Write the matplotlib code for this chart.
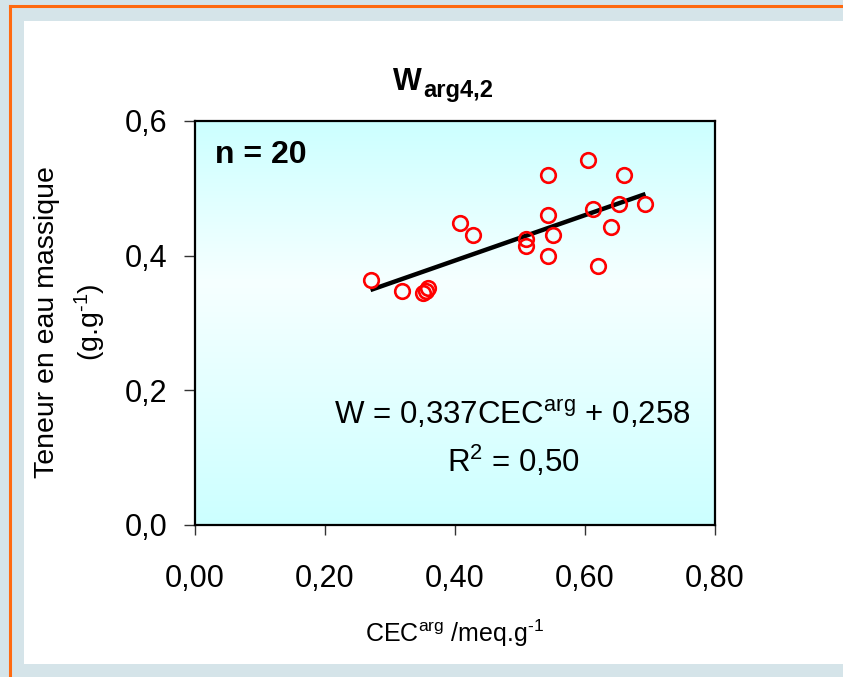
import numpy as np
import matplotlib
matplotlib.use("Agg")
import matplotlib.pyplot as plt
from matplotlib.patches import Rectangle
from matplotlib.lines import Line2D

plt.rcParams['font.family'] = ['Liberation Sans', 'DejaVu Sans']
plt.rcParams['mathtext.fontset'] = 'custom'
plt.rcParams['mathtext.rm'] = 'Liberation Sans'
plt.rcParams['mathtext.it'] = 'Liberation Sans'
plt.rcParams['mathtext.bf'] = 'Liberation Sans:bold'

# ---- data ----
cec = [0.270, 0.319, 0.351, 0.359, 0.408, 0.428, 0.509, 0.509, 0.543, 0.543,
       0.551, 0.543, 0.604, 0.612, 0.620, 0.640, 0.652, 0.660, 0.693, 0.355]
water = [0.364, 0.348, 0.344, 0.352, 0.449, 0.430, 0.425, 0.415, 0.520, 0.461,
         0.430, 0.399, 0.542, 0.469, 0.384, 0.442, 0.477, 0.520, 0.477, 0.347]
slope = 0.337
intercept = 0.258
x_ticks = [0.0, 0.2, 0.4, 0.6, 0.8]
x_ticklabels = ['0,00', '0,20', '0,40', '0,60', '0,80']
y_ticks = [0.0, 0.2, 0.4, 0.6]
y_ticklabels = ['0,0', '0,2', '0,4', '0,6']

W, H = 843, 677
fig = plt.figure(figsize=(W / 100, H / 100), dpi=100)
fig.patch.set_facecolor('#d5e4e9')

def fx(px):
    return px / W

def fy(py):
    return 1 - py / H

# white panel
fig.add_artist(Rectangle((fx(24), fy(664)), fx(843) - fx(24), fy(21) - fy(664),
                         transform=fig.transFigure, facecolor='white',
                         edgecolor='none', zorder=0))
# orange border lines
fig.add_artist(Line2D([fx(10), fx(10)], [fy(677), fy(6)], transform=fig.transFigure,
                      color='#ff6a10', lw=2.2, zorder=1))
fig.add_artist(Line2D([fx(10), fx(843)], [fy(6), fy(6)], transform=fig.transFigure,
                      color='#ff6a10', lw=2.2, zorder=1))

ax = fig.add_axes([fx(195), fy(525), fx(715) - fx(195), fy(121) - fy(525)])

# gradient background of plot area
t = np.linspace(0, 1, 256)
c_edge = np.array([204, 255, 255]) / 255
c_mid = np.array([246, 255, 255]) / 255
w = np.interp(t, [0, 0.6, 1], [1, 0, 1])[:, None]
grad = c_mid + (c_edge - c_mid) * w
ax.imshow(grad[:, None, :], extent=[0, 1, 0, 1], transform=ax.transAxes,
          aspect='auto', zorder=0, origin='lower')

ax.set_xlim(0, 0.8)
ax.set_ylim(0, 0.6)

xs = np.array([min(cec), max(cec)])
ax.plot(xs, slope * xs + intercept, color='black', lw=3.2, zorder=2,
        solid_capstyle='butt')
ax.plot(cec, water, linestyle='none', marker='o', ms=10.5, mfc='none',
        mec='#ff0000', mew=1.9, zorder=3)

for s in ax.spines.values():
    s.set_linewidth(1.6)
    s.set_color('black')

ax.set_xticks(x_ticks)
ax.set_xticklabels(x_ticklabels)
ax.set_yticks(y_ticks)
ax.set_yticklabels(y_ticklabels)
ax.tick_params(axis='x', direction='out', length=7, width=1, labelsize=22, pad=21,
               color='#333333')
ax.tick_params(axis='y', direction='out', length=8, width=1, labelsize=22, pad=12,
               color='#333333')

# texts inside axes
fig.text(fx(215), fy(163), 'n = 20', fontsize=23, fontweight='bold', va='baseline',
         ha='left')
fig.text(fx(512), fy(424), r'W = 0,337CEC$^{\mathrm{arg}}$ + 0,258', fontsize=22.5,
         ha='center', va='baseline')
fig.text(fx(514), fy(472), r'R$^{2}$ = 0,50', fontsize=22.5, ha='center',
         va='baseline')

# title
fig.text(fx(422), fy(90), 'W', fontsize=22, fontweight='bold', ha='right',
         va='baseline')
fig.text(fx(423), fy(97), 'arg4,2', fontsize=17, fontweight='bold', ha='left',
         va='baseline')

# axis labels
fig.text(fx(455), fy(633), r'CEC$^{\mathrm{arg}}$ /meq.g$^{\text{-1}}$', fontsize=18,
         ha='center', va='center')
fig.text(fx(71), fy(322), 'Teneur en eau massique\n(g.g$^{\\text{-1}}$)', fontsize=20.5,
         ha='center', va='center', rotation=90, multialignment='center',
         linespacing=1.5)

fig.savefig('out.png', dpi=100, facecolor=fig.get_facecolor())
